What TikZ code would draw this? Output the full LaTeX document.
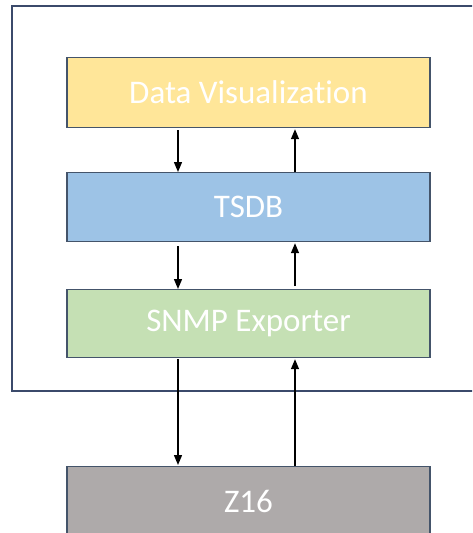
\documentclass[tikz,border=0pt]{standalone}
\usepackage{fontspec}
\setmainfont{Carlito}[Ligatures={NoCommon}]
\usetikzlibrary{arrows.meta}
\definecolor{edgec}{HTML}{44546A}
\definecolor{framec}{HTML}{3B4A6B}
\definecolor{yel}{HTML}{FFE699}
\definecolor{blu}{HTML}{9DC3E6}
\definecolor{grn}{HTML}{C5E0B4}
\definecolor{gry}{HTML}{AEAAAA}
\tikzset{
  layer/.style={draw=edgec, line width=1.2pt, minimum width=363pt, minimum height=70pt,
    inner sep=0pt, text=white, font=\fontsize{33}{40}\selectfont, anchor=north},
  flow/.style={-{Triangle[length=10pt,width=8pt]}, line width=1.4pt, black}
}
\begin{document}
\begin{tikzpicture}[x=1pt,y=-1pt]
\useasboundingbox (0,0) rectangle (472,533);
\clip (0,0) rectangle (472,533);
\fill[white] (0,0) rectangle (472,533);
\draw[framec, line width=1.2pt] (12,6) rectangle (490,391);
\node[layer, fill=yel] (dv) at (248.5,57) {Data Visualization};
\node[layer, fill=blu, minimum height=69pt] (tsdb) at (248.5,172) {TSDB};
\node[layer, fill=grn, minimum height=68pt] (snmp) at (248.5,289) {SNMP Exporter};
\node[layer, fill=gry] (z16) at (248.5,466) {Z16};
\draw[flow] ([xshift=-70.5pt,yshift=-2pt]dv.south) -- ([xshift=-70.5pt]tsdb.north);
\draw[flow] ([xshift=46.5pt]tsdb.north) -- ([xshift=46.5pt,yshift=-1pt]dv.south);
\draw[flow] ([xshift=-70.5pt,yshift=-4pt]tsdb.south) -- ([xshift=-70.5pt]snmp.north);
\draw[flow] ([xshift=46.5pt,yshift=3pt]snmp.north) -- ([xshift=46.5pt,yshift=-1pt]tsdb.south);
\draw[flow] ([xshift=-70.5pt,yshift=-1pt]snmp.south) -- ([xshift=-70.5pt,yshift=1pt]z16.north);
\draw[flow] ([xshift=46.5pt]z16.north) -- ([xshift=46.5pt,yshift=-1pt]snmp.south);
\end{tikzpicture}
\end{document}
